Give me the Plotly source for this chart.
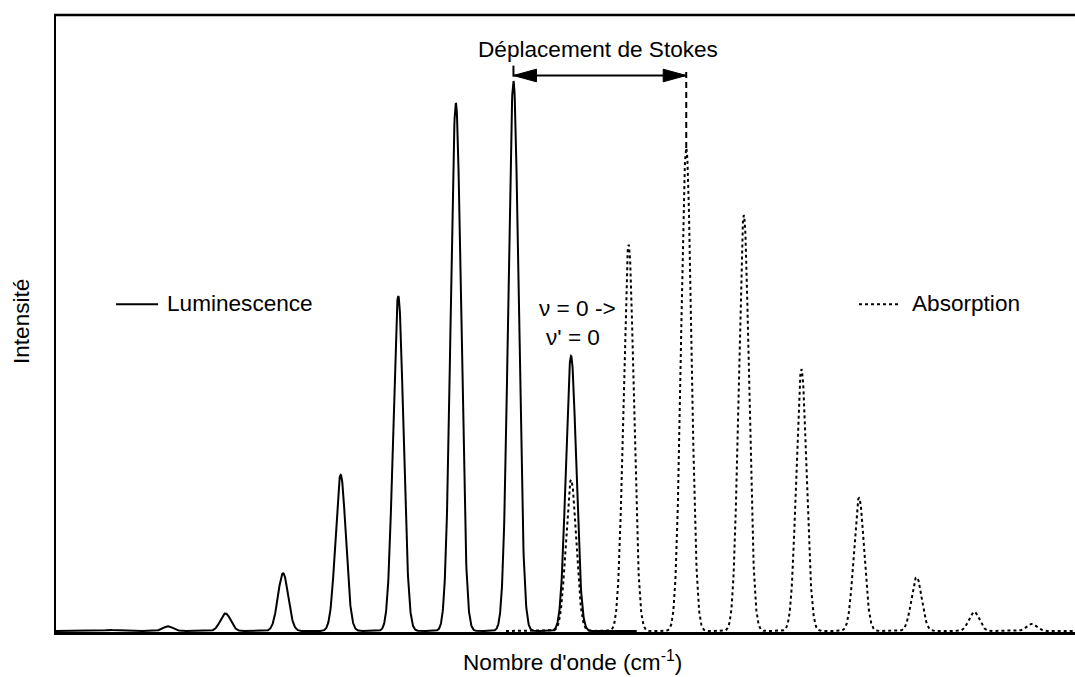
import numpy as np
import plotly.graph_objects as go

# ---- data ----
lum_positions = [-8, -7, -6, -5, -4, -3, -2, -1, 0]          # vibronic index (0-0 at 0)
lum_heights = [0.2, 0.85, 3.2, 10.5, 28.4, 60.9, 96.0, 100.0, 50.0]
abs_positions = [0, 1, 2, 3, 4, 5, 6, 7, 8]
abs_heights = [27.5, 70.2, 87.8, 75.6, 47.6, 24.2, 9.8, 3.5, 1.3]
peak_sigma = 0.089

x_min, x_max = -8.96, 8.75
y_min, y_max = -0.18, 112.0
lum_end = 1.14
abs_start = -1.13


def spectrum(xs, pos, hts):
    y = np.zeros_like(xs)
    for p, h in zip(pos, hts):
        y += h * np.exp(-0.5 * ((xs - p) / peak_sigma) ** 2)
    return y


x_lum = np.linspace(x_min, lum_end, 2400)
x_abs = np.linspace(abs_start, x_max, 2400)

FONT = "Liberation Sans, Arial, sans-serif"
FS = 22.6

fig = go.Figure()
fig.add_trace(go.Scatter(x=x_lum, y=spectrum(x_lum, lum_positions, lum_heights),
                         mode="lines", line=dict(color="black", width=2),
                         name="Luminescence", showlegend=False, hoverinfo="skip"))
fig.add_trace(go.Scatter(x=x_abs, y=spectrum(x_abs, abs_positions, abs_heights),
                         mode="lines", line=dict(color="black", width=2, dash="dot"),
                         name="Absorption", showlegend=False, hoverinfo="skip"))

# Stokes shift arrow between the strongest luminescence and absorption peaks
i_l = int(np.argmax(lum_heights))
i_a = int(np.argmax(abs_heights))
xl, xa = lum_positions[i_l], abs_positions[i_a]
y_arr = 101.0
head_len = 0.4
head_hw = 1.15
shapes = [
    # frame (left, top, bottom)
    dict(type="line", xref="paper", yref="paper", x0=0, x1=0, y0=-0.003, y1=1.0,
         line=dict(color="black", width=2), layer="above"),
    dict(type="line", xref="paper", yref="paper", x0=-0.001, x1=1.0, y0=1.0, y1=1.0,
         line=dict(color="black", width=2.5), layer="above"),
    dict(type="line", xref="paper", yref="paper", x0=-0.001, x1=1.0, y0=-0.0025, y1=-0.0025,
         line=dict(color="black", width=3), layer="above"),
    # arrow
    dict(type="line", x0=xl, x1=xa, y0=y_arr, y1=y_arr, line=dict(color="black", width=2)),
    dict(type="line", x0=xl, x1=xl, y0=y_arr - 0.2, y1=y_arr + 1.8, line=dict(color="black", width=2)),
    dict(type="line", x0=xa, x1=xa, y0=abs_heights[i_a], y1=y_arr + 1.0,
         line=dict(color="black", width=2, dash="6px,4px")),
    dict(type="path", path=f"M{xl},{y_arr} L{xl + head_len},{y_arr + head_hw} L{xl + head_len},{y_arr - head_hw} Z",
         fillcolor="black", line=dict(color="black", width=1)),
    dict(type="path", path=f"M{xa},{y_arr} L{xa - head_len},{y_arr + head_hw} L{xa - head_len},{y_arr - head_hw} Z",
         fillcolor="black", line=dict(color="black", width=1)),
    # legend samples
    dict(type="line", x0=-7.9, x1=-7.17, y0=59.4, y1=59.4, line=dict(color="black", width=2)),
    dict(type="line", x0=5.0, x1=5.7, y0=59.4, y1=59.4, line=dict(color="black", width=2, dash="dot")),
]

annotations = [
    dict(x=0.47, y=105.7, text="Déplacement de Stokes", showarrow=False, xanchor="center", yanchor="middle"),
    dict(x=0.12, y=58.7, text="ν = 0 ->", showarrow=False, xanchor="center", yanchor="middle"),
    dict(x=0.04, y=53.3, text="ν' = 0", showarrow=False, xanchor="center", yanchor="middle"),
    dict(x=-7.05, y=59.5, text="Luminescence", showarrow=False, xanchor="left", yanchor="middle"),
    dict(x=5.88, y=59.5, text="Absorption", showarrow=False, xanchor="left", yanchor="middle"),
    dict(x=(572 - 55) / 1020, xref="paper", y=(632 - 661) / 617, yref="paper",
         text="Nombre d'onde (cm<sup>-1</sup>)", showarrow=False, xanchor="center", yanchor="middle"),
    dict(x=(21 - 55) / 1020, xref="paper", y=(632 - 322) / 617, yref="paper", text="Intensité",
         showarrow=False, textangle=-90, xanchor="center", yanchor="middle"),
]
for a in annotations:
    a.setdefault("xref", "x")
    a.setdefault("yref", "y")
    a["font"] = dict(family=FONT, size=FS, color="black")

fig.update_layout(
    width=1075, height=677,
    margin=dict(l=55, r=0, t=15, b=45),
    paper_bgcolor="white", plot_bgcolor="white",
    shapes=shapes, annotations=annotations,
    showlegend=False,
    font=dict(family=FONT, size=FS, color="black"),
)
fig.update_xaxes(range=[x_min, x_max], showticklabels=False, ticks="", showgrid=False, zeroline=False,
                 showline=False)
fig.update_yaxes(range=[y_min, y_max], showticklabels=False, ticks="", showgrid=False, zeroline=False,
                 showline=False)

fig.write_html("out.html")
